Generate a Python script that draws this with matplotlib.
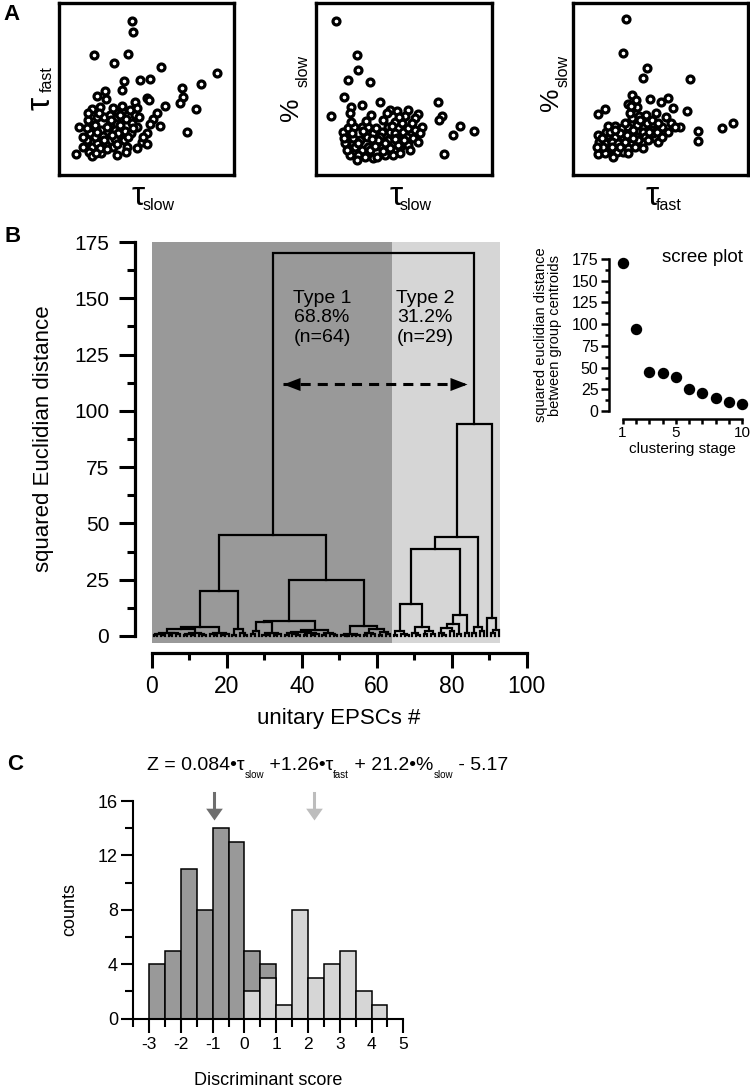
import numpy as np
import matplotlib
matplotlib.use('Agg')
import matplotlib.pyplot as plt
from matplotlib.ticker import MultipleLocator

plt.rcParams['font.family'] = ['Liberation Sans', 'DejaVu Sans']
plt.rcParams['axes.unicode_minus'] = False

DARK = '#999999'
LIGHT = '#d6d6d6'

# ---------------- panel A data (arbitrary units, axes have no ticks) ----------------
slow_vs_fast = [(225, 466), (228, 431), (110, 363), (211, 365), (170, 340), (312, 328), (478, 310),
                (432, 277), (200, 284), (195, 257), (248, 287), (279, 292), (373, 265), (378, 238),
                (144, 256), (120, 240), (146, 231), (270, 235), (276, 229), (323, 210), (369, 218),
                (415, 200), (233, 221), (104, 200), (128, 206), (166, 204), (195, 195), (218, 198),
                (300, 188), (286, 171), (308, 150), (278, 156), (388, 132), (91, 168), (66, 146),
                (118, 178), (140, 176), (180, 178), (206, 170), (232, 182), (238, 148), (158, 156),
                (112, 153), (130, 138), (150, 148), (173, 138), (202, 136), (220, 128), (88, 108),
                (104, 88), (94, 73), (118, 100), (138, 120), (146, 93), (173, 110), (200, 108),
                (208, 88), (268, 128), (253, 103), (268, 96), (238, 83), (206, 73), (168, 88),
                (130, 68), (103, 60), (180, 62), (55, 66), (98, 128), (188, 153), (158, 183),
                (124, 190), (113, 118), (183, 128), (223, 160), (246, 176), (128, 83), (116, 68),
                (160, 168), (194, 210), (180, 96), (78, 88), (140, 108), (90, 143), (226, 143),
                (258, 118), (188, 183), (93, 188), (213, 118), (163, 123), (238, 203), (120, 133),
                (76, 118), (150, 80)]

slow_vs_pct = [(20.7, 155.3), (41.7, 121), (42.7, 106), (32.7, 96), (55, 94.3), (29.3, 78.7),
               (35.7, 69.3), (46.7, 71), (16, 60), (35, 62.7), (56, 61), (28.3, 44.3), (33.3, 47.7),
               (39.3, 48.7), (46.7, 49.3), (53.3, 48.7), (31.7, 36), (38.3, 37.7), (45, 36),
               (51.7, 39.3), (58.3, 42.7), (33.3, 27.7), (40, 29.3), (46.7, 26), (53.3, 29.3),
               (35, 21), (43.3, 21), (58.3, 17.7), (30, 32.7), (50, 19.3), (65, 74.3), (75, 66),
               (81.7, 65), (93.3, 66), (103.3, 62), (90, 60), (100, 57.7), (106.7, 49.3),
               (123.3, 74.3), (126.7, 60), (124, 56), (145, 50), (138.3, 41), (159.3, 45.3),
               (129.3, 22), (73.3, 49.3), (75, 44.3), (66.7, 44.3), (80, 42.7), (88.3, 44.3),
               (93.3, 47.7), (65, 39.3), (73.3, 36), (81.7, 37.7), (91.7, 39.3), (98.3, 37.7),
               (103.3, 34.3), (66.7, 29.3), (75, 27.7), (85, 29.3), (93.3, 31), (70, 21),
               (78.3, 21), (85, 22.7), (61.7, 19.3), (63.3, 36), (68.3, 56), (80, 54.3),
               (86.7, 52.7), (96.7, 52.7), (32, 26), (37, 43), (43, 33), (48, 45), (55, 26),
               (61, 48), (70, 33), (77, 50), (83, 31), (89, 36), (95, 26), (100, 46), (84, 59),
               (57, 37), (42, 16), (51, 55), (72, 63), (105, 43), (68, 25), (29, 38), (36, 54),
               (60, 30), (80, 37)]

fast_vs_pct = [(53.4, 156.7), (50.4, 122.7), (74.4, 107.7), (70.7, 98), (117.7, 96.7), (60, 81),
               (77.7, 76.7), (88.7, 74.3), (96, 77.7), (100.4, 67.7), (56, 72), (59.4, 67.7),
               (64.4, 68.7), (67, 60.3), (83.4, 63.3), (93.7, 59.3), (114.4, 65), (32.7, 66.7),
               (25.4, 62), (59.4, 57.7), (98.4, 53.3), (107.7, 48.7), (149.4, 48.3), (160.4, 53.3),
               (125.4, 45), (125.4, 35.3), (72, 49.3), (79.4, 46), (87.7, 47.7), (96, 44.3),
               (102.7, 48.7), (42.7, 50), (49.4, 47.7), (56, 49.3), (64.4, 51), (71, 44.3),
               (82.7, 37.7), (86, 34.3), (69.4, 34.3), (72.7, 39.3), (64.4, 39.3), (57.7, 42.7),
               (51, 39.3), (42.7, 39.3), (36, 41), (25.4, 41), (26.7, 34.3), (32.7, 32.7),
               (39.4, 34.3), (46, 32.7), (49.4, 27.7), (36, 26), (25.4, 21.7), (51, 24.3),
               (59.4, 32.7), (56, 27.7), (62.7, 29.3), (69.4, 32.7), (76, 36), (81, 42.7),
               (33.7, 44.3), (29.4, 37.7), (39.4, 29.3), (44.4, 24.3), (32.7, 22.7), (52.7, 34.3),
               (61, 46), (67.7, 56), (74.4, 52.7), (57.7, 62.7), (79.4, 56), (89.4, 49.3),
               (73.4, 61), (52.7, 53.3), (47.7, 42.7), (54.4, 41), (66, 36), (76.7, 44.3),
               (37.7, 44.3), (31, 29.3), (24.4, 29.3), (41, 19.3), (84.4, 44.3), (58.7, 70),
               (63.4, 76), (85.4, 53.3), (61, 37.7), (47.7, 29.3), (71, 27.7), (56, 22.7),
               (42.7, 46), (90, 39.3), (36, 50)]

# ---------------- panel B data ----------------
# dendrogram: node = (merge height, left, right), leaf = o
o = 0
c1 = (1.4, (0.9, (0.4, o, o), (0.6, o, o)), (1.1, (0.3, o, o), (0.7, o, o)))
c2 = (1.2, (0.8, (0.3, o, o), (0.5, o, o)), (0.9, o, (0.4, o, o)))
c3 = (1.5, (0.7, o, (0.3, o, o)), (1.0, (0.4, o, o), o))
t1ab = (3.0, (0.6, o, o), (1.2, o, (0.5, o, o)))
t1a = (20.0, (4.1, (3.3, c1, c2), c3), t1ab)
c4 = (2.0, (0.8, o, o), o)
c5 = (1.3, (0.6, o, (0.3, o, o)), (0.9, (0.4, o, o), o))
c6 = (1.8, (1.1, (0.5, o, o), (0.7, o, (0.3, o, o))), (1.4, (0.6, o, o), (0.9, (0.4, o, o), o)))
c7 = (1.2, (0.5, o, o), (0.8, o, (0.4, o, o)))
c8 = (0.8, (0.4, o, (0.2, o, o)), (0.6, (0.3, o, o), o))
c9 = (3.0, (1.5, (0.6, o, o), (0.9, o, o)), (1.8, (0.5, o, o), (1.0, o, o)))
t1b = (25.0, (6.8, (6.4, c4, c5), (2.7, c6, c7)), (4.6, c8, c9))
type1 = (45.0, t1a, t1b)

ca = (2.0, (0.6, o, o), (1.0, o, (0.4, o, o)))
cb = (4.0, (1.2, o, (0.5, o, o)), (2.0, (0.7, o, o), (1.0, o, o)))
cc = (5.5, (3.5, (1.5, o, (0.6, o, o)), (2.2, o, o)), (1.0, o, o))
cd = (1.5, o, o)
t2ab = (4.0, (1.3, o, o), (2.0, o, o))
t2b = (8.0, o, (2.5, (1.2, o, o), o))
type2 = (94.0, (44.0, (38.5, (14.2, ca, cb), (9.3, cc, cd)), t2ab), t2b)
root = (170.0, type1, type2)

n_type1 = 64
n_type2 = 29
type_labels = ['Type 1\n68.8%\n(n=64)', 'Type 2\n31.2%\n(n=29)']
type_label_x = [45.4, 72.9]

scree_stage = [1, 2, 3, 4, 5, 6, 7, 8, 9, 10]
scree_dist = [170, 94, 45, 44, 39, 25, 21, 14.5, 10, 8]
scree_ticklabels = ['1', '', '', '', '5', '', '', '', '', '10']

# ---------------- panel C data ----------------
type1_bins = [-3.0, -2.5, -2.0, -1.5, -1.0, -0.5, 0.0, 0.5]
type1_counts = [4, 5, 11, 8, 14, 13, 5, 4]
type2_bins = [0.0, 0.5, 1.0, 1.5, 2.0, 2.5, 3.0, 3.5, 4.0]
type2_counts = [2, 3, 1, 8, 3, 4, 5, 2, 1]
centroid_scores = [-0.95, 2.2]
formula_parts = [('Z = 0.084•τ', False), ('slow', True), (' +1.26•τ', False), ('fast', True),
                 (' + 21.2•%', False), ('slow', True), (' - 5.17', False)]

W, H = 750, 1088
fig = plt.figure(figsize=(W / 100, H / 100), dpi=100)


def px_axes(l, t, r, b):
    return fig.add_axes([l / W, 1 - b / H, (r - l) / W, (b - t) / H])


def sub_label(ax, x, y, base, sub, dx, dy, bsize, rot=0):
    ax.text(x, y, base, transform=ax.transAxes, fontsize=bsize, ha='right', va='baseline',
            rotation=rot, rotation_mode='anchor')
    ax.annotate(sub, xy=(x, y), xycoords='axes fraction', xytext=(dx, dy), textcoords='offset points',
                fontsize=11.5, ha='left', va='baseline', rotation=rot, rotation_mode='anchor')


# ---------------- A ----------------
boxes = [(58.7, 3.3, 234, 175), (315.7, 3.3, 491.7, 175), (573.3, 3.3, 747.7, 175)]
data_a = [slow_vs_fast, slow_vs_pct, fast_vs_pct]
lims = [((4, 530), (3, 518)), ((0.7, 176.7), (1, 172.7)), ((1, 175.4), (1, 172.7))]
axes_a = []
for box, pts, (xl, yl) in zip(boxes, data_a, lims):
    ax = px_axes(*box)
    xs = [p[0] for p in pts]
    ys = [p[1] for p in pts]
    ax.plot(xs, ys, 'o', ms=5.0, mfc='white', mec='black', mew=2.3, ls='none', clip_on=False)
    ax.set_xlim(*xl)
    ax.set_ylim(*yl)
    ax.set_xticks([])
    ax.set_yticks([])
    for s in ax.spines.values():
        s.set_linewidth(2.4)
    axes_a.append(ax)

sub_label(axes_a[0], -0.05, 0.454, 'τ', 'fast', 1.5, 3.6, 24, rot=90)
sub_label(axes_a[1], -0.102, 0.454, '%', 'slow', 7.2, 7.2, 19, rot=90)
sub_label(axes_a[2], -0.088, 0.507, '%', 'slow', 7.2, 1.0, 19, rot=90)
sub_label(axes_a[0], 0.492, -0.175, 'τ', 'slow', -2, -3.6, 24)
sub_label(axes_a[1], 0.492, -0.175, 'τ', 'slow', -2, -3.6, 24)
sub_label(axes_a[2], 0.487, -0.175, 'τ', 'fast', -2, -3.6, 24)

# ---------------- B: dendrogram ----------------
axd = px_axes(135, 242, 526.7, 653.3)
axd.set_xlim(-4.45, 100)
axd.set_ylim(-7.7, 175)
axd.fill_between([0, n_type1], -3, 175, color=DARK, lw=0, zorder=0)
axd.fill_between([n_type1, n_type1 + n_type2], -3, 175, color=LIGHT, lw=0, zorder=0)


def draw_tree(ax, node, pos):
    if node == 0:
        x = pos[0] + 0.5
        pos[0] += 1
        return x, 0.0
    h, left, right = node
    xl, hl = draw_tree(ax, left, pos)
    xr, hr = draw_tree(ax, right, pos)
    ax.plot([xl, xl, xr, xr], [hl, h, h, hr], color='black', lw=1.6, solid_joinstyle='miter')
    return (xl + xr) / 2, h


draw_tree(axd, root, [0])

for s in ['top', 'right']:
    axd.spines[s].set_visible(False)
axd.spines['left'].set_bounds(0, 175)
axd.spines['bottom'].set_bounds(0, 100)
axd.spines['left'].set_linewidth(2.3)
axd.spines['bottom'].set_linewidth(2.3)
axd.yaxis.set_major_locator(MultipleLocator(25))
axd.yaxis.set_minor_locator(MultipleLocator(12.5))
axd.xaxis.set_major_locator(MultipleLocator(20))
axd.xaxis.set_minor_locator(MultipleLocator(10))
axd.tick_params(axis='y', which='major', length=11.5, width=2.2, labelsize=15, pad=7)
axd.tick_params(axis='y', which='minor', length=5.8, width=2.2)
axd.tick_params(axis='x', which='major', length=10.8, width=2.2, labelsize=16.5, pad=5)
axd.tick_params(axis='x', which='minor', length=5, width=2.2)
axd.set_ylabel('squared Euclidian distance', fontsize=16)
axd.yaxis.set_label_coords(-0.207, 0.521)
axd.set_xlabel('unitary EPSCs #', fontsize=16)
axd.xaxis.set_label_coords(0.521, -0.133)

for lab, lx in zip(type_labels, type_label_x):
    axd.text(lx, 141.3, lab, ha='center', va='center', fontsize=14, linespacing=1.2)

arr_y = 112
arr_x = [34.9, 84.0]
axd.plot(arr_x, [arr_y, arr_y], color='black', lw=2.2, dashes=(3.3, 2.3))
axd.plot([arr_x[0]], [arr_y], marker=[(0, 0), (1.3, 0.5), (1.3, -0.5)], ms=24.5, color='black', mew=0)
axd.plot([arr_x[1]], [arr_y], marker=[(0, 0), (-1.3, 0.5), (-1.3, -0.5)], ms=24.5, color='black', mew=0)

# ---------------- B: scree plot ----------------
axs = px_axes(609.3, 254.7, 749, 411)
axs.plot(scree_stage, scree_dist, 'o', color='black', ms=7.2, clip_on=False)
axs.set_xlim(0, 10.5)
axs.set_ylim(0, 180)
for s in ['top', 'right']:
    axs.spines[s].set_visible(False)
axs.spines['bottom'].set_position(('outward', 6))
axs.spines['bottom'].set_bounds(1, 10)
axs.spines['left'].set_bounds(0, 175)
axs.spines['left'].set_linewidth(1.8)
axs.spines['bottom'].set_linewidth(1.8)
axs.set_xticks(scree_stage)
axs.set_xticklabels(scree_ticklabels)
axs.yaxis.set_major_locator(MultipleLocator(25))
axs.yaxis.set_minor_locator(MultipleLocator(12.5))
axs.tick_params(axis='y', which='major', length=5.8, width=1.8, labelsize=11.5, pad=2)
axs.tick_params(axis='y', which='minor', length=2.9, width=1.8)
axs.tick_params(axis='x', length=3.6, width=1.8, labelsize=11, pad=1.5)
axs.set_ylabel('squared euclidian distance\nbetween group centroids', fontsize=10.5, linespacing=1.0)
axs.yaxis.set_label_coords(-0.339, 0.486)
axs.set_xlabel('clustering stage', fontsize=11)
axs.xaxis.set_label_coords(0.524, -0.2)
fig.text(702 / W, 1 - 257 / H, 'scree plot', fontsize=13.5, ha='center', va='center')

# ---------------- C: histogram ----------------
axh = px_axes(133.3, 801, 403.3, 1018.7)
axh.bar(type1_bins, type1_counts, width=0.5, align='edge', color=DARK, edgecolor='black', lw=1.1)
axh.bar(type2_bins, type2_counts, width=0.5, align='edge', color=LIGHT, edgecolor='black', lw=1.1)
axh.set_xlim(-3.5, 5)
axh.set_ylim(0, 16)
for s in ['top', 'right']:
    axh.spines[s].set_visible(False)
axh.spines['left'].set_linewidth(1.5)
axh.spines['bottom'].set_linewidth(1.5)
axh.xaxis.set_major_locator(MultipleLocator(1))
axh.xaxis.set_minor_locator(MultipleLocator(0.5))
axh.yaxis.set_major_locator(MultipleLocator(4))
axh.yaxis.set_minor_locator(MultipleLocator(2))
axh.tick_params(axis='x', which='major', length=10, width=1.5, labelsize=12.5, pad=3)
axh.tick_params(axis='x', which='minor', length=5.8, width=1.5)
axh.tick_params(axis='y', which='major', length=9, width=1.5, labelsize=13, pad=2)
axh.tick_params(axis='y', which='minor', length=5.8, width=1.5)
axh.set_ylabel('counts', fontsize=13)
axh.yaxis.set_label_coords(-0.205, 0.5)
axh.set_xlabel('Discriminant score', fontsize=13)
axh.xaxis.set_label_coords(0.5, -0.245)

head_down = [(0, 0), (-0.6, 0.85), (0.6, 0.85)]
for xs, c in zip(centroid_scores, ['#6e6e6e', '#bdbdbd']):
    axh.plot([xs, xs], [16.6, 15.4], color=c, lw=2.2, clip_on=False)
    axh.plot([xs], [14.6], marker=head_down, ms=17, color=c, mew=0, clip_on=False)

# formula above the histogram, pieces chained left to right
prev = fig.text(147 / W, 1 - 770 / H, formula_parts[0][0], fontsize=14, va='baseline')
was_sub = False
for txt, is_sub in formula_parts[1:]:
    if is_sub:
        dy, size = -4.3, 7
    else:
        dy, size = (4.3 if was_sub else 0), 14
    prev = axh.annotate(txt, xy=(1, 0), xycoords=prev, xytext=(0, dy), textcoords='offset points',
                        fontsize=size, ha='left', va='bottom', annotation_clip=False)
    was_sub = is_sub

# panel letters
fig.text(11 / W, 1 - 14 / H, 'A', fontsize=16, fontweight='bold', ha='center', va='center')
fig.text(13 / W, 1 - 237 / H, 'B', fontsize=16, fontweight='bold', ha='center', va='center')
fig.text(15 / W, 1 - 764 / H, 'C', fontsize=16, fontweight='bold', ha='center', va='center')

fig.savefig('out.png', dpi=100)
